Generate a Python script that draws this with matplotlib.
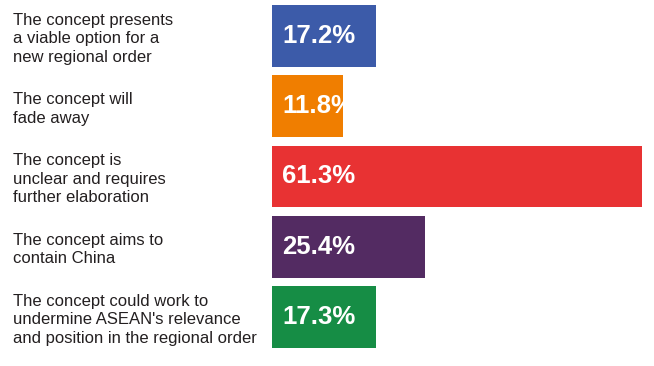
import matplotlib
matplotlib.use("Agg")
import matplotlib.pyplot as plt
from matplotlib.transforms import blended_transform_factory

plt.rcParams['font.family'] = ['Liberation Sans', 'DejaVu Sans']

# survey answers, top to bottom
labels = [
    "The concept presents\na viable option for a\nnew regional order",
    "The concept will\nfade away",
    "The concept is\nunclear and requires\nfurther elaboration",
    "The concept aims to\ncontain China",
    "The concept could work to\nundermine ASEAN's relevance\nand position in the regional order",
]
values = [17.2, 11.8, 61.3, 25.4, 17.3]
colors = ['#3C5BA9', '#F07E00', '#E83233', '#532B62', '#168D45']

W, H = 654, 366
fig = plt.figure(figsize=(W / 100, H / 100), dpi=100)
ax = fig.add_axes([272 / W, (H - 352.1) / H, 370 / W, 351.25 / H])

ypos = list(range(len(values)))
bars = ax.barh(ypos, values, height=0.88, color=colors)

ax.set_xlim(0, max(values))
ax.set_ylim(len(values) - 0.5, -0.5)
ax.axis('off')

# category labels at the left edge of the figure
trans = blended_transform_factory(fig.transFigure, ax.transData)
for y, lab in zip(ypos, labels):
    ax.text(13 / W, y + 0.04, lab, transform=trans, ha='left', va='center',
            fontsize=12, color='#231F20', linespacing=1.3)

# value inside each bar, clipped to the bar like the original
for bar, v in zip(bars, values):
    t = ax.annotate(f"{v:.1f}%", xy=(0, bar.get_y() + bar.get_height() / 2),
                    xytext=(7.5, 0), textcoords='offset points',
                    ha='left', va='center', fontsize=18.5, fontweight='bold',
                    color='white')
    t.set_clip_path(bar)

fig.savefig('out.png', dpi=100)
